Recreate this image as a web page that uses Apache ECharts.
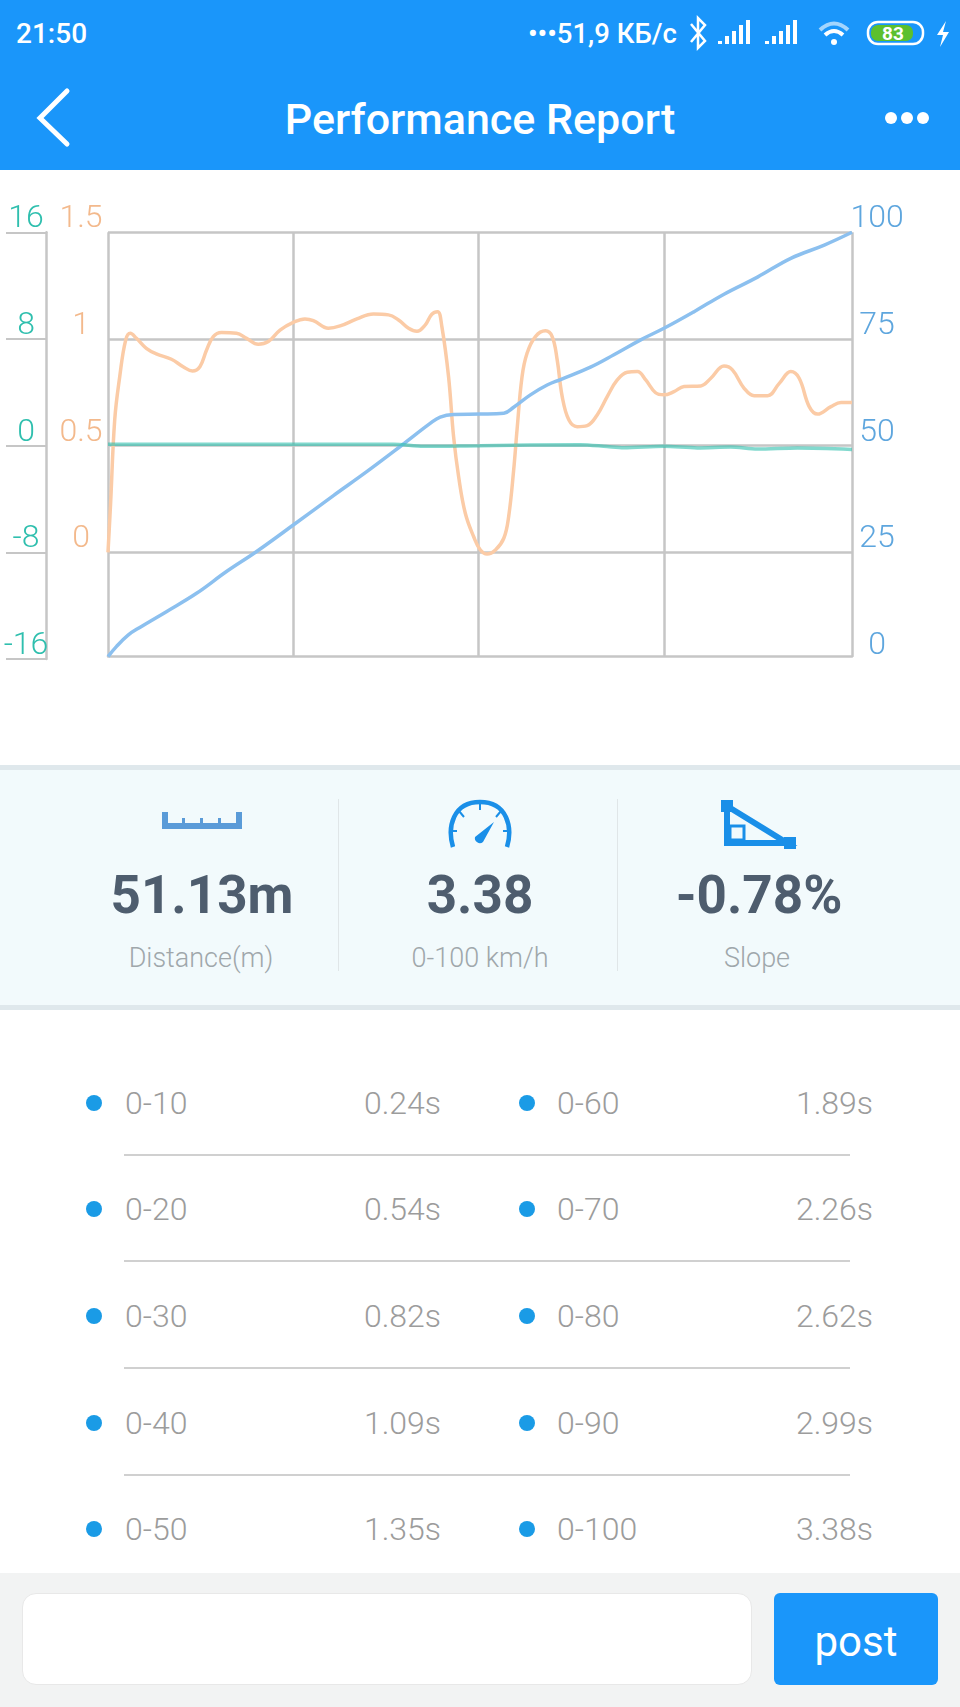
<!DOCTYPE html>
<html>
	<head>
		<meta charset="utf-8" />
		<title>Performance Report</title>
		<style>
			* { margin: 0; padding: 0; box-sizing: border-box; }
			body { width: 960px; height: 1707px; position: relative; overflow: hidden; background: #fff; font-family: Roboto, sans-serif; }
			.abs { position: absolute; white-space: nowrap; }
			.c { transform: translate(-50%, -50%); }
			.r { transform: translate(-100%, -50%); }
			.l { transform: translateY(-50%); }
			#top { left: 0; top: 0; width: 960px; height: 170px; background: #1a96fa; }
			#panel { left: 0; top: 765px; width: 960px; height: 245px; background: #f2fafc; border-top: 5px solid #dfe8ec; border-bottom: 5px solid #dfe8ec; }
			#chartmain { position: absolute; left: 0; top: 170px; width: 960px; height: 590px; }
			.big { font-size: 53px; font-weight: 700; color: #4e5d6e; }
			.small { font-size: 27px; font-weight: 300; color: #9fa7ab; }
			.row { font-size: 32px; font-weight: 300; color: #9c9c9c; }
			.dot { width: 16px; height: 16px; border-radius: 50%; background: #1a9be6; }
			.sep { left: 124px; width: 726px; height: 2px; background: #d0d0d0; }
			.vsep { top: 799px; width: 1px; height: 172px; background: #e0e6e8; }
		</style>
	</head>

	<body>
		<div id="top" class="abs"></div>
		<div class="abs l" style="left:16px;top:33px;font-size:28px;font-weight:500;color:#fff">21:50</div>
		<div class="abs l" style="left:528px;top:33px;font-size:27.5px;font-weight:500;color:#fff">•••51,9 КБ/с</div>
		<svg class="abs" style="left:0;top:0" width="960" height="170" fill="none" stroke="#fff">
			<path d="M691 24l14 17-7 7V18l7 7-14 17" stroke-width="2.5" />
			<g stroke-width="4">
				<path d="M720 44v-3M727 44v-8M734 44v-13M741 44V25M748 44V20" />
				<path d="M767 44v-3M774 44v-8M781 44v-13M788 44V25M795 44V20" />
			</g>
			<path d="M820 30q14-13 28 0" stroke-width="4" opacity=".6" />
			<path d="M825 35q9-8 18 0" stroke-width="4" />
			<circle cx="834" cy="42" r="3" fill="#fff" stroke="none" />
			<rect x="868" y="22" width="55" height="22" rx="10" stroke-width="2.5" />
			<rect x="871" y="25" width="42" height="16" rx="7" fill="#5cc02e" stroke="none" />
			<path d="M946 21l-9 14h6l-3 12 9-15h-6z" fill="#fff" stroke="none" />
			<path d="M67 91L40 118l27 26" stroke-width="5" stroke-linecap="round" />
			<circle cx="891" cy="118" r="6" fill="#fff" stroke="none" />
			<circle cx="907" cy="118" r="6" fill="#fff" stroke="none" />
			<circle cx="923" cy="118" r="6" fill="#fff" stroke="none" />
		</svg>
		<div class="abs c" style="left:893px;top:33px;font-size:19px;font-weight:700;color:#fff">83</div>
		<div class="abs c" style="left:480px;top:119px;font-size:43px;font-weight:500;color:#fff">Performance Report</div>

		<div id="chartmain"></div>

		<div id="panel" class="abs"></div>
		<div class="abs vsep" style="left:338px"></div>
		<div class="abs vsep" style="left:617px"></div>
		<svg class="abs" style="left:0;top:760px" width="960" height="100">
			<path d="M162 52h6v11h14v-5h3v5h15v-5h3v5h15v-5h3v5h15V52h6v17h-80z" fill="#5a9bd8" />
			<path d="M453 87c-6-20 0-45 27-45 27 0 33 25 27 45" fill="none" stroke="#1a8fe8" stroke-width="4.5" />
			<path d="M480 42v8M459 51l5 6M501 51l-5 6M450 71h7M510 71h-7" stroke="#1a8fe8" stroke-width="2" />
			<path d="M494 62l-11 20a5 5 0 0 1-8-5z" fill="#1a8fe8" />
			<g fill="none" stroke="#1a8fe8" stroke-width="6">
				<path d="M727 46v37h60z" />
				<rect x="730" y="66" width="14" height="14" stroke-width="3" />
			</g>
			<rect x="721" y="40" width="12" height="12" fill="#1a8fe8" />
			<rect x="784" y="77" width="12" height="12" fill="#1a8fe8" />
		</svg>
		<div class="abs c big" style="left:202px;top:895px">51.13m</div>
		<div class="abs c big" style="left:480px;top:895px">3.38</div>
		<div class="abs c big" style="left:759px;top:895px">-0.78%</div>
		<div class="abs c small" style="left:201px;top:958px">Distance(m)</div>
		<div class="abs c small" style="left:480px;top:958px">0-100 km/h</div>
		<div class="abs c small" style="left:757px;top:958px">Slope</div>

		<div id="rows"></div>

		<div class="abs" style="left:0;top:1573px;width:960px;height:134px;background:#f2f3f3"></div>
		<div class="abs" style="left:22px;top:1593px;width:730px;height:92px;background:#fff;border:1px solid #e8e8e8;border-radius:14px"></div>
		<div class="abs" style="left:774px;top:1593px;width:164px;height:92px;background:#1a96fa;border-radius:6px"></div>
		<div class="abs c" style="left:856px;top:1641px;font-size:42px;font-weight:400;color:#fff">post</div>

		<script src="https://cdn.jsdelivr.net/npm/echarts@6/dist/echarts.min.js"></script>
		<script type="text/javascript">
			// chart values
			var speedX = [0, 0.045, 0.108, 0.171, 0.314, 0.476, 0.637, 0.799, 0.996, 1.212, 1.391, 1.571, 1.732, 1.786, 1.858, 2.002, 2.128, 2.181, 2.271, 2.361, 2.433, 2.594, 2.72, 2.864, 2.989, 3.151, 3.312, 3.492, 3.671, 3.851, 4];
			var speedY = [0.55, 2.9, 5.6, 7.4, 11.1, 15.4, 20.5, 25.2, 31.4, 38.3, 43.9, 49.8, 55.2, 56.7, 57.3, 57.4, 57.6, 59, 61.9, 64.2, 65.5, 68.4, 71.3, 74.8, 77.5, 81.4, 85.5, 89.5, 93.9, 97, 100];
			var accelX = [0, 0.014, 0.036, 0.063, 0.095, 0.12, 0.153, 0.206, 0.26, 0.341, 0.404, 0.454, 0.494, 0.53, 0.566, 0.61, 0.691, 0.745, 0.808, 0.862, 0.925, 0.996, 1.059, 1.104, 1.185, 1.248, 1.338, 1.427, 1.508, 1.562, 1.616, 1.661, 1.706, 1.741, 1.772, 1.795, 1.831, 1.858, 1.885, 1.921, 1.966, 2.002, 2.038, 2.083, 2.128, 2.154, 2.181, 2.199, 2.226, 2.253, 2.298, 2.352, 2.388, 2.415, 2.442, 2.478, 2.522, 2.576, 2.63, 2.684, 2.738, 2.792, 2.846, 2.891, 2.944, 2.989, 3.043, 3.097, 3.187, 3.241, 3.312, 3.357, 3.42, 3.474, 3.546, 3.609, 3.671, 3.716, 3.77, 3.815, 3.887, 3.941, 4];
			var accelY = [0, 0.23, 0.62, 0.823, 0.995, 1.027, 1.003, 0.956, 0.93, 0.905, 0.87, 0.85, 0.87, 0.948, 1.011, 1.03, 1.027, 1.003, 0.975, 0.988, 1.042, 1.078, 1.094, 1.086, 1.05, 1.061, 1.094, 1.117, 1.113, 1.089, 1.05, 1.036, 1.066, 1.116, 1.128, 1.058, 0.823, 0.542, 0.355, 0.183, 0.073, 0.011, -0.008, 0.011, 0.066, 0.167, 0.386, 0.573, 0.823, 0.933, 1.011, 1.038, 1.011, 0.902, 0.73, 0.62, 0.589, 0.594, 0.644, 0.73, 0.808, 0.844, 0.847, 0.808, 0.748, 0.738, 0.753, 0.777, 0.78, 0.816, 0.873, 0.855, 0.769, 0.734, 0.734, 0.792, 0.847, 0.816, 0.683, 0.648, 0.683, 0.702, 0.702];
			var slopeX = [0, 1, 1.535, 1.697, 2, 2.54, 2.684, 2.773, 2.989, 3.168, 3.348, 3.491, 3.707, 4];
			var slopeY = [0.1, 0.1, 0.1, -0.05, 0, 0.07, -0.07, -0.15, -0.05, -0.17, -0.1, -0.25, -0.17, -0.28];

			// table under the chart
			var leftRanges = ['0-10', '0-20', '0-30', '0-40', '0-50'];
			var leftTimes = ['0.24s', '0.54s', '0.82s', '1.09s', '1.35s'];
			var rightRanges = ['0-60', '0-70', '0-80', '0-90', '0-100'];
			var rightTimes = ['1.89s', '2.26s', '2.62s', '2.99s', '3.38s'];

			var rowTops = [1102.5, 1209, 1316, 1422.5, 1529];
			var html = '';
			for(var i = 0; i < rowTops.length; i++) {
				var y = rowTops[i];
				html += '<div class="abs dot c" style="left:94px;top:' + y + 'px"></div>';
				html += '<div class="abs row l" style="left:125px;top:' + y + 'px">' + leftRanges[i] + '</div>';
				html += '<div class="abs row r" style="left:441px;top:' + y + 'px">' + leftTimes[i] + '</div>';
				html += '<div class="abs dot c" style="left:527px;top:' + y + 'px"></div>';
				html += '<div class="abs row l" style="left:557px;top:' + y + 'px">' + rightRanges[i] + '</div>';
				html += '<div class="abs row r" style="left:873px;top:' + y + 'px">' + rightTimes[i] + '</div>';
				if(i < rowTops.length - 1) {
					html += '<div class="abs sep" style="top:' + (y + 51) + 'px"></div>';
				}
			}
			document.getElementById('rows').innerHTML = html;

			var pairs = function(xs, ys) {
				return xs.map(function(x, n) { return [x, ys[n]]; });
			};

			var gridColor = '#c6c6c6';
			var blue = '#5ea6de';
			var orange = '#f3b98c';
			var teal = '#2fbfae';
			var axisFont = { fontSize: 32, fontWeight: 300, fontFamily: 'Roboto', verticalAlign: 'bottom', lineHeight: 26, align: 'center' };

			var option = {
				animation: false,
				// the frame ends a little above the last tick of the value axes, so it gets its own grid
				grid: [
					{ left: 108, width: 744, top: 62.3, height: 424.4 },
					{ left: 108, width: 744, top: 62.3, height: 426.7 }
				],
				xAxis: [
					{
						type: 'value', gridIndex: 0, min: 0, max: 4.015,
						axisLabel: { show: false },
						axisTick: { show: false, customValues: [0, 1, 2, 3, 4.015] },
						axisLine: { lineStyle: { color: gridColor, width: 2.5 } },
						splitLine: { lineStyle: { color: gridColor, width: 2.5 } }
					},
					{ type: 'value', gridIndex: 1, min: 0, max: 4, show: false }
				],
				yAxis: [
					{ type: 'value', gridIndex: 0, min: 0, max: 1, show: false, splitLine: { show: false } },
					{
						type: 'value', gridIndex: 1, position: 'right', min: 0, max: 100, interval: 25,
						axisLine: { show: false }, axisTick: { show: false }, splitLine: { show: false },
						axisLabel: Object.assign({ color: blue, margin: 25 }, axisFont)
					},
					{
						type: 'value', gridIndex: 1, position: 'left', min: -0.5, max: 1.5, interval: 0.5,
						axisLine: { show: false }, axisTick: { show: false },
						splitLine: { showMinLine: false, lineStyle: { color: gridColor, width: 2.5 } },
						axisLabel: Object.assign({
							color: orange, margin: 27,
							formatter: function(v) { return v < 0 ? '' : String(v); }
						}, axisFont)
					},
					{
						type: 'value', gridIndex: 1, position: 'left', offset: 62, min: -16, max: 16, interval: 8,
						axisLine: { show: true, lineStyle: { color: gridColor, width: 2.5 } },
						axisTick: { show: true, length: 40, lineStyle: { color: gridColor, width: 2 } },
						splitLine: { show: false },
						axisLabel: Object.assign({ color: teal, margin: 20 }, axisFont)
					}
				],
				series: [
					{
						name: 'accel', type: 'line', xAxisIndex: 1, yAxisIndex: 2, smooth: 0.4, showSymbol: false,
						lineStyle: { color: '#fbcba6', width: 3.5 }, data: pairs(accelX, accelY)
					},
					{
						name: 'speed', type: 'line', xAxisIndex: 1, yAxisIndex: 1, smooth: 0.4, showSymbol: false,
						lineStyle: { color: '#8cc0ef', width: 3.5 }, data: pairs(speedX, speedY)
					},
					{
						name: 'slope', type: 'line', xAxisIndex: 1, yAxisIndex: 3, smooth: 0.3, showSymbol: false,
						lineStyle: { color: teal, width: 3.5, opacity: 0.6 }, data: pairs(slopeX, slopeY)
					}
				]
			};
			var myChart = echarts.init(document.getElementById('chartmain'));
			myChart.setOption(option);
		</script>
	</body>
</html>
